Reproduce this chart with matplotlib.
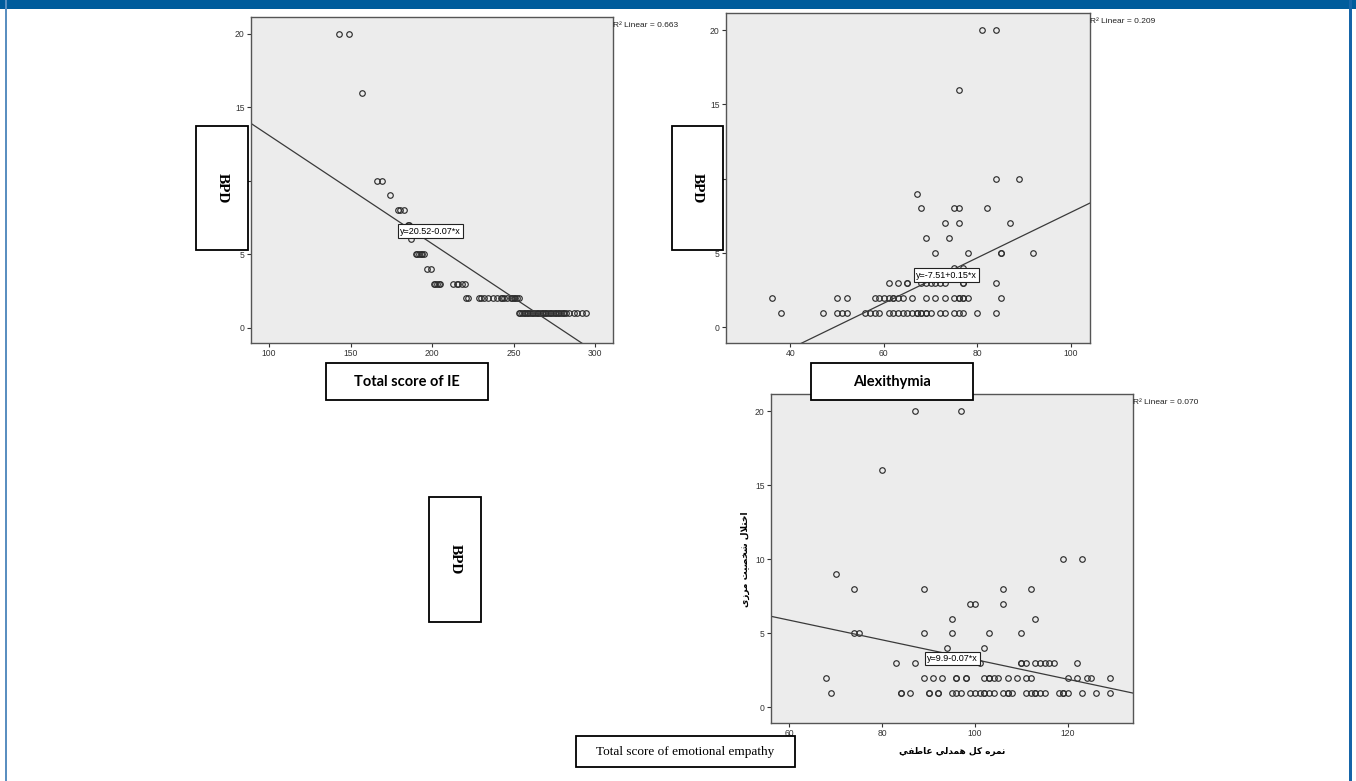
import numpy as np
import matplotlib
matplotlib.use('Agg')
import matplotlib.pyplot as plt
from matplotlib.patches import Rectangle

plt.rcParams['font.family'] = ['Liberation Sans', 'DejaVu Sans']

W, H = 1356, 781

# --- data (BPD score on y) ---
ie_score = [143, 149, 157, 166, 169, 174, 179, 180, 183, 185, 186, 187,
            190, 191, 192, 193, 194, 195, 197, 199,
            201, 202, 203, 204, 205, 213, 215, 216, 218, 220,
            221, 222, 229, 230, 232, 234, 237, 240, 242, 243, 244, 246, 248, 249, 250, 251, 252, 253,
            253, 254, 255, 256, 257, 258, 259, 260, 261, 262, 263, 264, 265, 266, 267,
            268, 269, 270, 271, 272, 273, 274, 275, 276, 277, 278, 279, 280, 281, 282,
            284, 287, 289, 292, 294]
ie_bpd = [20, 20, 16, 10, 10, 9, 8, 8, 8, 7, 7, 6,
          5, 5, 5, 5, 5, 5, 4, 4,
          3, 3, 3, 3, 3, 3, 3, 3, 3, 3,
          2, 2, 2, 2, 2, 2, 2, 2, 2, 2, 2, 2, 2, 2, 2, 2, 2, 2,
          1, 1, 1, 1, 1, 1, 1, 1, 1, 1, 1, 1, 1, 1, 1,
          1, 1, 1, 1, 1, 1, 1, 1, 1, 1, 1, 1, 1, 1, 1,
          1, 1, 1, 1, 1]

alex_score = [81, 84, 76, 84, 89, 67, 68, 75, 76, 82, 73, 76, 87, 69, 74,
              71, 78, 85, 85, 92, 75, 77,
              61, 63, 65, 65, 68, 69, 70, 71, 72, 73, 77, 77, 84,
              36, 50, 52, 58, 59, 60, 61, 62, 62, 63, 64, 66, 69, 71, 73, 75, 76, 76, 77, 77, 78, 85,
              38, 47, 50, 51, 52, 56, 57, 58, 59, 61, 62, 63, 64, 65, 66, 67, 67, 68, 68,
              69, 69, 70, 72, 73, 75, 76, 77, 80, 84]
alex_bpd = [20, 20, 16, 10, 10, 9, 8, 8, 8, 8, 7, 7, 7, 6, 6,
            5, 5, 5, 5, 5, 4, 4,
            3, 3, 3, 3, 3, 3, 3, 3, 3, 3, 3, 3, 3,
            2, 2, 2, 2, 2, 2, 2, 2, 2, 2, 2, 2, 2, 2, 2, 2, 2, 2, 2, 2, 2, 2,
            1, 1, 1, 1, 1, 1, 1, 1, 1, 1, 1, 1, 1, 1, 1, 1, 1, 1, 1,
            1, 1, 1, 1, 1, 1, 1, 1, 1, 1]

emp_score = [87, 97, 80, 119, 123, 70, 74, 89, 106, 112, 99, 100, 106, 95, 113,
             74, 75, 89, 95, 103, 110, 94, 102,
             83, 87, 101, 110, 110, 111, 113, 114, 115, 116, 117, 122,
             68, 89, 91, 93, 96, 96, 98, 98, 102, 103, 103, 104, 105, 107, 109, 111, 112,
             120, 122, 124, 125, 129,
             69, 84, 84, 86, 90, 90, 92, 92, 95, 96, 97, 99, 100, 101, 102, 102, 103, 104,
             106, 107, 107, 108, 111, 112, 113, 113, 114, 115, 118, 119, 119, 120, 123, 126, 129]
emp_bpd = [20, 20, 16, 10, 10, 9, 8, 8, 8, 8, 7, 7, 7, 6, 6,
           5, 5, 5, 5, 5, 5, 4, 4,
           3, 3, 3, 3, 3, 3, 3, 3, 3, 3, 3, 3,
           2, 2, 2, 2, 2, 2, 2, 2, 2, 2, 2, 2, 2, 2, 2, 2, 2,
           2, 2, 2, 2, 2,
           1, 1, 1, 1, 1, 1, 1, 1, 1, 1, 1, 1, 1, 1, 1, 1, 1, 1,
           1, 1, 1, 1, 1, 1, 1, 1, 1, 1, 1, 1, 1, 1, 1, 1, 1]

# fitted lines (intercept, slope) and their labels
ie_fit = (20.47, -0.0738)
alex_fit = (-7.53, 0.1527)
emp_fit = (9.88, -0.0665)
ie_eq, alex_eq, emp_eq = 'y=20.52-0.07*x', 'y=-7.51+0.15*x', 'y=9.9-0.07*x'
ie_r2, alex_r2, emp_r2 = '0.663', '0.209', '0.070'

# Persian text shaping (matplotlib has no bidi/shaping)
FORMS = {
    'ا': ('\uFE8D', '\uFE8E'),
    'د': ('\uFEA9', '\uFEAA'),
    'ر': ('\uFEAD', '\uFEAE'),
    'ز': ('\uFEAF', '\uFEB0'),
    'ت': ('\uFE95', '\uFE96', '\uFE97', '\uFE98'),
    'خ': ('\uFEA5', '\uFEA6', '\uFEA7', '\uFEA8'),
    'ش': ('\uFEB5', '\uFEB6', '\uFEB7', '\uFEB8'),
    'ص': ('\uFEB9', '\uFEBA', '\uFEBB', '\uFEBC'),
    'ط': ('\uFEC1', '\uFEC2', '\uFEC3', '\uFEC4'),
    'ع': ('\uFEC9', '\uFECA', '\uFECB', '\uFECC'),
    'ف': ('\uFED1', '\uFED2', '\uFED3', '\uFED4'),
    'ک': ('\uFED9', '\uFEDA', '\uFEDB', '\uFEDC'),
    'ل': ('\uFEDD', '\uFEDE', '\uFEDF', '\uFEE0'),
    'م': ('\uFEE1', '\uFEE2', '\uFEE3', '\uFEE4'),
    'ن': ('\uFEE5', '\uFEE6', '\uFEE7', '\uFEE8'),
    'ه': ('\uFEE9', '\uFEEA', '\uFEEB', '\uFEEC'),
    'ی': ('\uFEEF', '\uFEF0', '\uFEF3', '\uFEF4'),
    'ي': ('\uFEF1', '\uFEF2', '\uFEF3', '\uFEF4'),
}


def shape_fa(text):
    out = []
    i = 0
    while i < len(text):
        c = text[i]
        if c not in FORMS:
            out.append(c)
            i += 1
            continue
        prev = text[i - 1] if i > 0 else ''
        nxt = text[i + 1] if i + 1 < len(text) else ''
        joins_prev = prev in FORMS and len(FORMS[prev]) == 4
        if c == 'ل' and nxt == 'ا':
            out.append('\uFEFC' if joins_prev else '\uFEFB')
            i += 2
            continue
        joins_next = len(FORMS[c]) == 4 and nxt in FORMS
        f = FORMS[c]
        if joins_prev and joins_next:
            out.append(f[3])
        elif joins_prev:
            out.append(f[1])
        elif joins_next:
            out.append(f[2])
        else:
            out.append(f[0])
        i += 1
    return ''.join(reversed(out))


def px_rect(x0, y0, x1, y1):
    return [x0 / W, 1 - y1 / H, (x1 - x0) / W, (y1 - y0) / H]


fig = plt.figure(figsize=(W / 100, H / 100), dpi=100)
fig.patch.set_facecolor('white')


def panel(rect, xs, ys, xlim, xticks, fit, eq, eq_pos, r2):
    ax = fig.add_axes(rect)
    ax.set_facecolor('#ececec')
    ax.plot(xs, ys, 'o', ms=4.0, mfc='none', mec='#2e2e2e', mew=0.85)
    lx = np.array(xlim)
    ax.plot(lx, fit[0] + fit[1] * lx, color='#3a3a3a', lw=0.9)
    ax.set_xlim(xlim)
    ax.set_ylim(-1.05, 21.15)
    ax.set_xticks(xticks)
    ax.set_yticks([0, 5, 10, 15, 20])
    ax.tick_params(direction='out', length=3, width=0.8, labelsize=6.2,
                   colors='#333333', pad=1.5)
    for s in ax.spines.values():
        s.set_color('#555555')
        s.set_linewidth(1.0)
    ax.text(eq_pos[0], eq_pos[1], eq, ha='center', va='center', fontsize=6.5,
            bbox=dict(boxstyle='square,pad=0.25', fc='white', ec='#222222', lw=0.8))
    ax.text(1.0, 0.975, 'R² Linear = ' + r2, transform=ax.transAxes,
            ha='left', va='center', fontsize=6, color='#222222')
    return ax


panel(px_rect(251, 17, 613, 343), ie_score, ie_bpd, (89, 310.8),
      [100, 150, 200, 250, 300], ie_fit, ie_eq, (199, 6.56), ie_r2)
panel(px_rect(726, 13, 1090, 343), alex_score, alex_bpd, (26.2, 104.1),
      [40, 60, 80, 100], alex_fit, alex_eq, (73.4, 3.52), alex_r2)
panel(px_rect(771, 394, 1133, 723), emp_score, emp_bpd, (56.1, 134.0),
      [60, 80, 100, 120], emp_fit, emp_eq, (95.1, 3.29), emp_r2)


def label_box(x0, y0, x1, y1, text, rot=0, **kw):
    fig.add_artist(Rectangle((x0 / W, 1 - y1 / H), (x1 - x0) / W, (y1 - y0) / H,
                             transform=fig.transFigure, fc='white', ec='black',
                             lw=1.3, zorder=5))
    fig.text((x0 + x1) / 2 / W, 1 - (y0 + y1) / 2 / H, text, rotation=rot,
             ha='center', va='center', zorder=6, **kw)


serif_bold = dict(family='Liberation Serif', fontweight='bold', fontsize=11)
label_box(196, 126, 248, 250, 'BPD', rot=270, **serif_bold)
label_box(672, 126, 723, 250, 'BPD', rot=270, **serif_bold)
label_box(429, 497, 481, 622, 'BPD', rot=270, **serif_bold)
label_box(326, 363, 488, 400, 'Total score of IE', family='Lato',
          fontweight='bold', fontsize=10.5)
label_box(811, 363, 973, 400, 'Alexithymia', family='Lato',
          fontweight='bold', fontsize=10.5)
label_box(576, 736, 795, 767, 'Total score of emotional empathy',
          family='Liberation Serif', fontsize=9.5)

# Persian axis titles of the third plot
fig.text(745 / W, 1 - 559 / H, shape_fa('اختلال شخصیت مرزی'), rotation=90,
         ha='center', va='center', family='DejaVu Sans', fontweight='bold', fontsize=6.5)
fig.text(952 / W, 1 - 751 / H, shape_fa('نمره کل همدلي عاطفي'),
         ha='center', va='center', family='DejaVu Sans', fontweight='bold', fontsize=6.5)

# page frame
fig.add_artist(Rectangle((0, 1 - 9 / H), 1, 9 / H, transform=fig.transFigure,
                         fc='#005c9c', ec='none', zorder=7))
fig.add_artist(Rectangle((5 / W, 0), 2 / W, 1, transform=fig.transFigure,
                         fc='#5a8fc0', ec='none', zorder=7))
fig.add_artist(Rectangle((1349 / W, 0), 3 / W, 1, transform=fig.transFigure,
                         fc='#1565a8', ec='none', zorder=7))

fig.savefig('out.png', dpi=100)
